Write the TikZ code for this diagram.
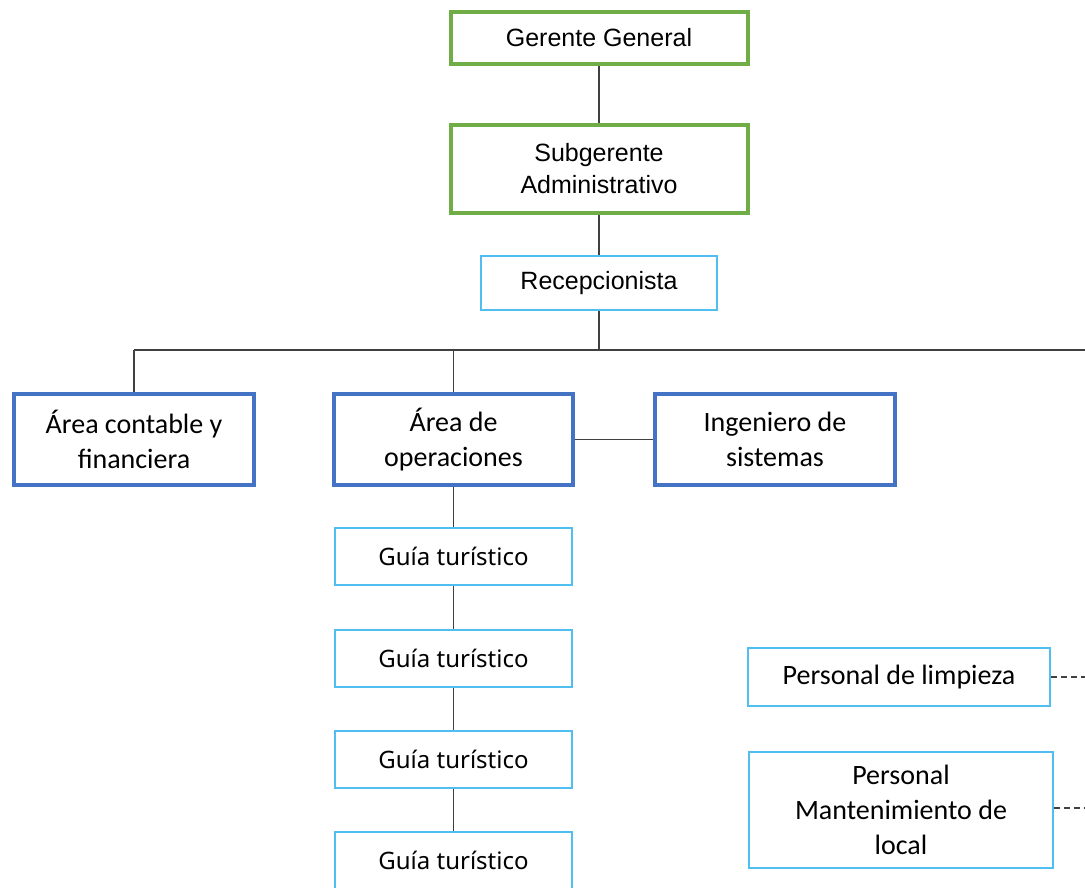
\documentclass[tikz,border=0pt]{standalone}
\usepackage{fontspec}
\setmainfont{Carlito}
\newfontfamily\arialf{Liberation Sans}
\newfontfamily\guiaf{Noto Sans}
\definecolor{gbox}{RGB}{112,173,71}
\definecolor{bbox}{RGB}{68,114,196}
\definecolor{cbox}{RGB}{80,190,240}
\definecolor{conn}{RGB}{64,64,64}
\tikzset{
  greenbox/.style={draw=gbox,line width=4pt,fill=white,inner sep=0pt,align=center,font=\arialf\fontsize{25}{32}\selectfont},
  bluebox/.style={draw=bbox,line width=4pt,fill=white,inner sep=0pt,align=center,font=\fontsize{28}{35}\selectfont},
  cyanbox/.style={draw=cbox,line width=1.6pt,fill=white,inner sep=0pt,align=center,font=\fontsize{28}{35}\selectfont},
  guiabox/.style={cyanbox,font=\guiaf\fontsize{24}{30}\selectfont},
  recbox/.style={cyanbox,font=\arialf\fontsize{25}{32}\selectfont},
  link/.style={draw=conn,line width=1.8pt},
  dlink/.style={draw=conn,line width=1.2pt,dash pattern=on 6pt off 4pt}
}
\begin{document}
\begin{tikzpicture}[x=1pt,y=-1pt]
\useasboundingbox (0,0) rectangle (1085,887);
\clip (0,0) rectangle (1085,887);
\fill[white] (0,0) rectangle (1085,887);
% nodes
\node[greenbox,minimum width=297pt,minimum height=52pt] (gg) at (599,38) {Gerente General};
\node[greenbox,minimum width=297pt,minimum height=88pt] (sub) at (599,169) {Subgerente\\Administrativo};
\node[recbox,minimum width=236pt,minimum height=54pt] (rec) at (599,283) {Recepcionista};
\coordinate (hub) at (599,350);
\coordinate (hl) at (134,350);
\coordinate (hr) at (1090,350);
\node[bluebox,minimum width=240pt,minimum height=91pt] (acf) at (134,439.5) {Área contable y\\financiera};
\node[bluebox,minimum width=239pt,minimum height=91pt] (aop) at (453.5,439.5) {Área de\\operaciones};
\node[bluebox,minimum width=240pt,minimum height=91pt] (ing) at (775,439.5) {Ingeniero de\\sistemas};
\node[guiabox,minimum width=237pt,minimum height=57pt] (g1) at (453.5,556.5) {Guía turístico};
\node[guiabox,minimum width=237pt,minimum height=57pt] (g2) at (453.5,658.5) {Guía turístico};
\node[guiabox,minimum width=237pt,minimum height=57pt] (g3) at (453.5,759.5) {Guía turístico};
\node[guiabox,minimum width=237pt,minimum height=57pt] (g4) at (453.5,860.5) {Guía turístico};
\node[cyanbox,minimum width=302pt,minimum height=58pt] (lim) at (899,677) {Personal de limpieza};
\node[cyanbox,minimum width=304pt,minimum height=116pt] (man) at (901,810) {Personal\\Mantenimiento de\\local};
\coordinate (limr) at (1090,677);
\coordinate (manr) at (1090,808);
% connectors
\draw[link] (gg.south) -- (sub.north);
\draw[link] (sub.south) -- (rec.north);
\draw[link] (rec.south) -- (hub);
\draw[link] (hl) -- (hr);
\draw[link] (hl) -- (acf.north);
\draw[link] (aop.north |- hl) -- (aop.north);
\draw[link] (aop.east) -- (ing.west);
\draw[link] (aop.south) -- (g1.north);
\draw[link] (g1.south) -- (g2.north);
\draw[link] (g2.south) -- (g3.north);
\draw[link] (g3.south) -- (g4.north);
\draw[dlink] (lim.east) -- (limr);
\draw[dlink] (man.east |- manr) -- (manr);
\end{tikzpicture}
\end{document}
